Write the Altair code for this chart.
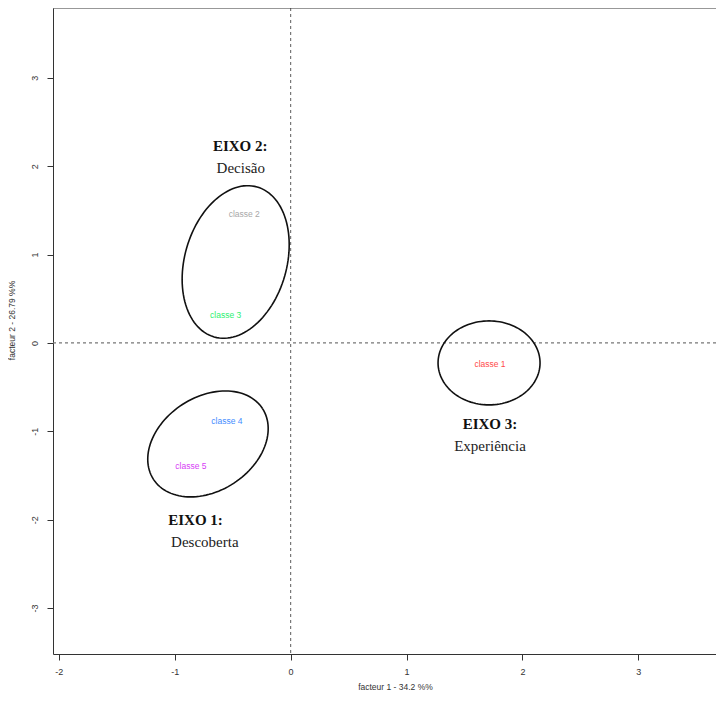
import altair as alt
import numpy as np
import pandas as pd

# ---- data ----
classes = ["classe 1", "classe 2", "classe 3", "classe 4", "classe 5"]
f1 = [1.72, -0.40, -0.56, -0.55, -0.86]
f2 = [-0.24, 1.46, 0.32, -0.88, -1.39]
class_colors = ["#ff4a4a", "#a8a8a8", "#2cf070", "#3f8cff", "#d640f5"]

axis_heads = ["EIXO 1:", "EIXO 2:", "EIXO 3:"]
axis_names = ["Descoberta", "Decisão", "Experiência"]
head_x = [-0.82, -0.435, 1.72]
head_y = [-2.00, 2.23, -0.92]
name_x = [-0.74, -0.43, 1.72]
name_y = [-2.25, 1.98, -1.17]

# hand-drawn ellipses: centre (data units), semi-axes (px), tilt (deg)
ell_cx = [-0.474, -0.713, 1.712]
ell_cy = [0.916, -1.143, -0.226]
ell_a = [78, 65, 51]
ell_b = [51, 47, 42]
ell_phi = [74, 33, 0]

x_ticks = [-2, -1, 0, 1, 2, 3]
y_ticks = [-3, -2, -1, 0, 1, 2, 3]
x_dom = [-2.05, 3.67]
y_dom = [-3.52, 3.79]

W, H = 663, 646
px_x = W / (x_dom[1] - x_dom[0])
px_y = H / (y_dom[1] - y_dom[0])

rows = []
for i in range(3):
    phi = np.radians(ell_phi[i])
    for k, t in enumerate(np.linspace(0, 2 * np.pi, 121)):
        u = ell_a[i] * np.cos(t)
        v = ell_b[i] * np.sin(t)
        dx = u * np.cos(phi) - v * np.sin(phi)
        dy = u * np.sin(phi) + v * np.cos(phi)
        rows.append({"e": i, "k": k, "x": ell_cx[i] + dx / px_x, "y": ell_cy[i] + dy / px_y})
ell_df = pd.DataFrame(rows)

cls_df = pd.DataFrame({"c": classes, "x": f1, "y": f2, "col": class_colors})
head_df = pd.DataFrame({"t": axis_heads, "x": head_x, "y": head_y})
name_df = pd.DataFrame({"t": axis_names, "x": name_x, "y": name_y})

xs = alt.Scale(domain=x_dom, nice=False, zero=False)
ys = alt.Scale(domain=y_dom, nice=False, zero=False)

xaxis = alt.Axis(values=x_ticks, labelExpr="datum.value + ''", title="facteur  1  - 34.2 %%",
                 grid=False, tickSize=6, labelPadding=7, titleX=342, titleY=32,
                 titleBaseline="middle",
                 domainColor="#333", tickColor="#333")
yaxis = alt.Axis(values=y_ticks, labelExpr="datum.value + ''", title="facteur  2  - 26.79 %%",
                 grid=False, tickSize=6, labelPadding=8, labelAngle=-90,
                 titleX=-37, titleY=312, titleAngle=-90,
                 domainColor="#333", tickColor="#333")

base_pts = alt.Chart(cls_df).mark_point(opacity=0).encode(
    x=alt.X("x:Q", scale=xs, axis=xaxis),
    y=alt.Y("y:Q", scale=ys, axis=yaxis),
)

top_rule = alt.Chart(pd.DataFrame({"a": [0]})).mark_rule(color="#333", strokeWidth=1).encode(
    x=alt.datum(x_dom[0]), x2=alt.datum(x_dom[1]), y=alt.datum(y_dom[1])
)
vline = alt.Chart(pd.DataFrame({"a": [0]})).mark_rule(color="#777", strokeDash=[3, 3], strokeWidth=1.2).encode(
    x=alt.datum(0)
)
hline = alt.Chart(pd.DataFrame({"a": [0]})).mark_rule(color="#777", strokeDash=[3, 3], strokeWidth=1.2).encode(
    y=alt.datum(0)
)

ellipses = alt.Chart(ell_df).mark_line(color="#111", strokeWidth=1.6).encode(
    x=alt.X("x:Q", scale=xs), y=alt.Y("y:Q", scale=ys), detail="e:N", order="k:Q"
)

labels = alt.Chart(cls_df).mark_text(font="Liberation Sans", fontSize=8.5).encode(
    x=alt.X("x:Q", scale=xs), y=alt.Y("y:Q", scale=ys), text="c:N",
    color=alt.Color("col:N", scale=None)
)

heads = alt.Chart(head_df).mark_text(font="Liberation Serif", fontSize=15, fontWeight="bold", color="#111").encode(
    x=alt.X("x:Q", scale=xs), y=alt.Y("y:Q", scale=ys), text="t:N"
)
names = alt.Chart(name_df).mark_text(font="Liberation Serif", fontSize=15, color="#222").encode(
    x=alt.X("x:Q", scale=xs), y=alt.Y("y:Q", scale=ys), text="t:N"
)

chart = alt.layer(base_pts, vline, hline, top_rule, ellipses, labels, heads, names).properties(
    width=W, height=H,
    autosize=alt.AutoSizeParams(type="none"),
    padding={"left": 45, "top": 0, "right": 0, "bottom": 38},
    background="white",
).configure_view(stroke="transparent").configure_axis(
    labelFont="Liberation Sans", labelFontSize=9, labelColor="#333",
    titleFont="Liberation Sans", titleFontSize=8.5, titleFontWeight="normal", titleColor="#333",
)

chart.save("out.html", embed_options={"renderer": "svg", "actions": False})
